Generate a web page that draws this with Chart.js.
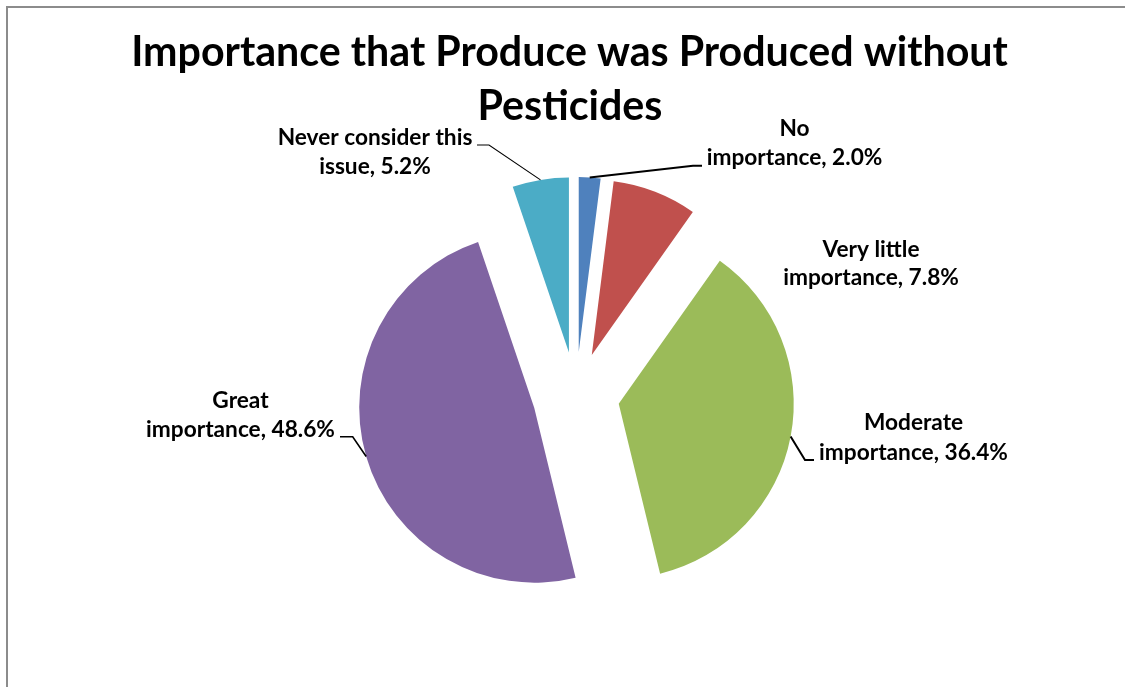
<!DOCTYPE html>
<html>
<head>
<meta charset="utf-8">
<script src="https://cdn.jsdelivr.net/npm/chart.js@4/dist/chart.umd.min.js"></script>
<style>
  html, body { margin: 0; padding: 0; background: #ffffff; }
  #wrap { width: 1125px; height: 687px; position: relative; }
</style>
</head>
<body>
<div id="wrap"><canvas id="c" width="1125" height="687"></canvas></div>
<script>
// ---- Data ----
const titleLines = ["Importance that Produce was Produced without", "Pesticides"];
const categories = ["No importance", "Very little importance", "Moderate importance", "Great importance", "Never consider this issue"];
const values = [2.0, 7.8, 36.4, 48.6, 5.2];
const colors = ["#4F81BD", "#C0504D", "#9BBB59", "#8064A2", "#4BACC6"];
const wrapWords = [1, 2, 1, 1, 3]; // words on first label line

// ---- Layout (positions, not data) ----
const EXPLODE = 43.5;
const labelLayout = [
  { cx: 794.5, b1: 136, b2: 165, lw: 2, leader: [[693, 165.7], [702, 165.7]] },
  { cx: 871, b1: 256.5, b2: 285, lw: 0, leader: null },
  { cx: 913.5, b1: 430, b2: 460, lw: 2, leader: [[805, 460], [814, 460]] },
  { cx: 240.5, b1: 408, b2: 437, lw: 1.6, leader: [[352.7, 436.7], [340, 436.7]] },
  { cx: 375, b1: 145, b2: 173.5, lw: 1.1, leader: [[489, 145], [477, 145]] }
];

function labelLines(i) {
  const full = categories[i] + ", " + values[i].toFixed(1) + "%";
  const words = full.split(" ");
  return [words.slice(0, wrapWords[i]).join(" "), words.slice(wrapWords[i]).join(" ")];
}

const FONT = "Lato, 'Open Sans', 'DejaVu Sans', sans-serif";
function fitSize(ctx, text, target) {
  ctx.font = "bold 100px " + FONT;
  return 100 * target / ctx.measureText(text).width;
}

const explodePlugin = {
  id: 'explode',
  afterDatasetUpdate(chart, args) {
    args.meta.data.forEach(arc => {
      const mid = (arc.startAngle + arc.endAngle) / 2;
      arc.x += EXPLODE * Math.cos(mid);
      arc.y += EXPLODE * Math.sin(mid);
    });
  }
};

const framePlugin = {
  id: 'frame',
  beforeDraw(chart) {
    const ctx = chart.ctx;
    ctx.save();
    ctx.fillStyle = "#ffffff";
    ctx.fillRect(0, 0, chart.width, chart.height);
    ctx.strokeStyle = "#8c8c8c";
    ctx.lineWidth = 2;
    ctx.beginPath();
    ctx.moveTo(7, 687);
    ctx.lineTo(7, 7);
    ctx.lineTo(1125, 7);
    ctx.stroke();
    ctx.restore();
  }
};

const textPlugin = {
  id: 'texts',
  afterDraw(chart) {
    const ctx = chart.ctx;
    ctx.save();
    // Title
    const ts = fitSize(ctx, titleLines[0], 877);
    ctx.font = "bold " + ts + "px " + FONT;
    ctx.fillStyle = "#000000";
    ctx.textAlign = "center";
    ctx.textBaseline = "alphabetic";
    ctx.fillText(titleLines[0], 569.5, 66);
    ctx.fillText(titleLines[1], 570, 120);

    // Labels
    const ls = fitSize(ctx, "importance, 36.4%", 189);
    ctx.font = "bold " + ls + "px " + FONT;
    const arcs = chart.getDatasetMeta(0).data;
    arcs.forEach((arc, i) => {
      const L = labelLayout[i];
      const lines = labelLines(i);
      ctx.fillStyle = "#000000";
      ctx.fillText(lines[0], L.cx, L.b1);
      ctx.fillText(lines[1], L.cx, L.b2);
      if (L.leader) {
        const mid = (arc.startAngle + arc.endAngle) / 2;
        const r = arc.outerRadius;
        ctx.strokeStyle = "#000000";
        ctx.lineWidth = L.lw;
        ctx.beginPath();
        ctx.moveTo(arc.x + r * Math.cos(mid), arc.y + r * Math.sin(mid));
        L.leader.forEach(p => ctx.lineTo(p[0], p[1]));
        ctx.stroke();
      }
    });
    ctx.restore();
  }
};

function build() {
  new Chart(document.getElementById('c'), {
    type: 'pie',
    data: {
      labels: categories,
      datasets: [{
        data: values,
        backgroundColor: colors,
        borderWidth: 0,
        hoverOffset: 0
      }]
    },
    options: {
      responsive: false,
      devicePixelRatio: 1,
      animation: false,
      radius: 175,
      layout: { padding: { left: 276, right: 249, top: 115.5, bottom: 11.5 } },
      plugins: { legend: { display: false }, title: { display: false }, tooltip: { enabled: false } },
      events: []
    },
    plugins: [framePlugin, explodePlugin, textPlugin]
  });
}

if (document.fonts && document.fonts.load) {
  Promise.all([document.fonts.load("bold 20px Lato")]).then(build, build);
} else {
  build();
}
</script>
</body>
</html>
